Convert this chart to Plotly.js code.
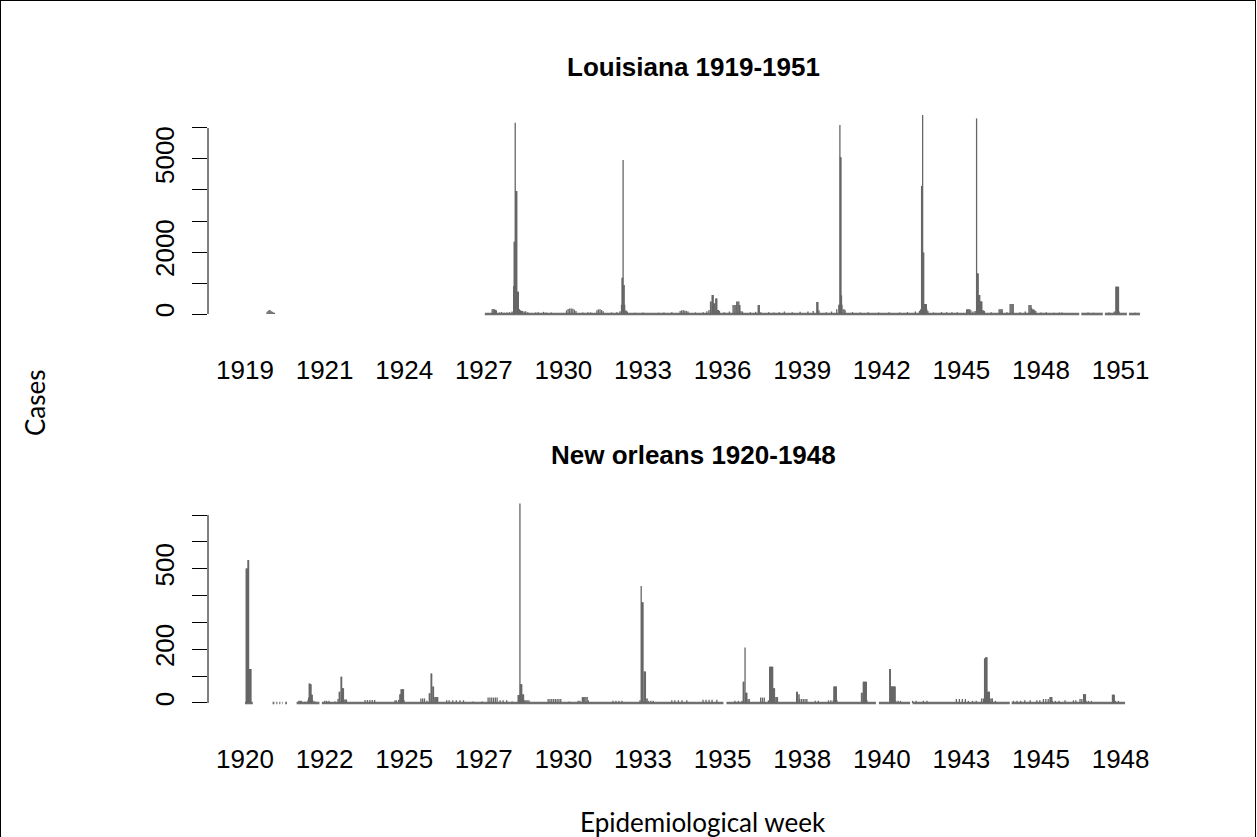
<!DOCTYPE html>
<html>
<head>
<meta charset="utf-8">
<script src="https://cdn.plot.ly/plotly-3.0.1.min.js"></script>
<style>
html,body{margin:0;padding:0;background:#fff;}
#wrap{position:relative;width:1257px;height:837px;overflow:hidden;}
#chart{width:1257px;height:837px;}
#frame{position:absolute;left:0;top:0;width:1256px;height:840px;box-sizing:border-box;border:1px solid #000;pointer-events:none;}
</style>
</head>
<body>
<div id="wrap"><div id="chart"></div><div id="frame"></div></div>
<script>
// ---------------- DATA ----------------
// Louisiana: weekly cases, week index counted from the first week of 1919
const laTitle = 'Louisiana 1919-1951';
const laTickLabels = ['1919','1921','1924','1927','1930','1933','1936','1939','1942','1945','1948','1951'];
const laTickStep = 152;            // weeks between year labels
const laRecordStart = [458, 1597, 1642, 1688];
const laRecordEnd   = [1593, 1638, 1684, 1709];
const laWeeks = [42,44,46,48,50,52,54,56,
 472,474,476,478,480,486,490,495,500,505,510,
 513,514,515,516,517,518,519,520,521,522,523,524,526,528,530,533,536,540,
 555,560,570,575,585,
 614,617,620,623,626,629,632,645,655,660,
 672,675,678,681,684,700,710,716,
 719,720,721,722,723,724,725,726,728,730,
 745,760,790,800,815,
 831,834,837,840,843,846,860,875,882,886,
 889,890,892,893,894,895,896,897,899,900,901,902,904,906,915,925,
 932,934,936,938,939,941,943,944,945,947,950,
 965,975,980,981,982,985,
 1000,1010,1020,1030,1045,1060,1075,1085,
 1092,1093,1094,1096,1110,1120,1130,
 1134,1135,1136,1137,1138,1139,1140,1142,1144,1146,
 1160,1175,1190,1210,1230,1250,1265,1280,1288,1290,
 1292,1293,1294,1295,1296,1297,1298,1299,1300,1301,1302,1304,
 1315,1330,1340,1350,1360,
 1378,1380,1382,1384,1386,1390,1394,1396,
 1397,1398,1399,1400,1401,1402,1403,1404,1405,1406,1407,1408,1410,1412,
 1425,1440,1442,1444,1446,1455,1461,1463,1465,1467,
 1480,1490,1497,1499,1501,1502,1504,1506,1508,1510,
 1520,1530,1545,1555,1560,1610,1620,1650,1660,
 1663,1664,1665,1666,1667,1668,1669,1700];
const laCases = [60,100,130,120,90,70,50,40,
 150,160,150,140,120,50,60,40,50,60,80,
 900,2330,2330,6170,3970,3970,3970,720,720,720,160,150,120,100,100,80,90,60,
 50,60,70,50,50,
 120,160,180,180,170,140,100,50,60,50,
 120,150,150,130,90,50,60,90,
 300,1170,1170,4970,935,935,300,110,110,80,
 40,50,40,50,60,
 100,120,120,110,100,80,50,60,90,130,
 400,400,610,610,610,340,340,340,500,500,500,130,130,100,60,80,
 290,290,290,290,400,400,400,290,290,100,80,
 60,70,290,290,290,60,
 60,50,60,80,60,70,80,100,
 390,390,390,120,60,80,150,
 300,300,6100,5060,5060,600,300,150,150,120,
 60,50,60,50,60,50,60,80,100,150,
 4130,4130,6420,1980,1980,320,320,320,320,320,150,100,
 50,60,60,60,60,
 150,150,150,150,120,80,100,100,
 6310,1310,1310,1310,610,610,610,400,400,400,400,120,120,100,
 60,150,150,150,150,60,320,320,320,320,
 60,80,290,290,290,200,150,150,120,100,
 50,60,40,50,50,50,40,50,80,
 880,880,880,880,880,880,80,40];
const laYTicks  = [0,1000,2000,3000,4000,5000,6000];
const laYLabels = ['0','','2000','','','5000',''];

// New Orleans: weekly cases, week index counted from spring 1920
const noTitle = 'New orleans 1920-1948';
const noTickLabels = ['1920','1922','1925','1927','1930','1933','1935','1938','1940','1943','1945','1948'];
const noTickStep = 132.6;          // weeks between year labels
const noRecordStart = [0, 46, 52, 57, 62, 67, 86, 128, 802, 1056, 1112, 1277];
const noRecordEnd   = [13, 49, 54, 59, 63, 70, 124, 797, 1051, 1108, 1274, 1466];
const noWeeks = [2,3,4,5,6,7,8,9,10,
 90,92,94,100,105,106,107,108,109,110,111,112,113,116,
 133,136,140,150,155,157,158,160,161,162,163,164,165,167,169,
 200,204,208,212,216,
 250,252,256,258,259,260,261,262,263,264,265,
 293,296,299,303,307,308,310,311,313,314,315,317,319,321,
 336,340,346,352,358,364,380,395,
 405,408,411,414,417,420,425,430,436,
 445,455,456,457,458,459,460,461,462,463,464,466,468,470,473,
 505,508,511,514,517,520,523,526,
 540,555,558,562,564,566,568,570,572,
 613,618,623,628,
 658,660,661,662,663,665,666,667,668,670,672,676,680,
 711,716,722,728,736,763,768,773,778,786,
 816,822,828,830,831,833,834,835,836,838,840,
 859,862,865,
 872,874,875,876,877,878,879,880,881,882,883,885,887,
 919,920,921,923,924,927,930,933,936,950,955,
 972,976,980,981,982,983,984,985,986,
 1027,1028,1030,1031,1032,1033,1034,1035,1036,
 1074,1075,1076,1077,1078,1079,1080,1081,1082,1083,1084,1088,1092,
 1112,1118,1130,1136,1185,1190,1195,1200,1205,1212,1218,
 1227,1230,1232,1233,1234,1235,1236,1237,1238,1239,1240,1241,1243,1245,1250,
 1280,1286,1292,1299,1308,1319,1324,
 1330,1334,1338,1341,1342,1343,1344,1345,1350,1356,
 1366,1380,1384,1391,1394,1397,1398,1399,1400,1401,1405,1410,
 1445,1446,1447,1448,1450,1455];
const noCases = [501,501,501,532,532,127,127,127,127,
 8,8,8,5,10,20,73,73,70,70,31,31,10,6,
 8,8,8,6,15,42,42,98,98,55,55,55,13,13,13,
 11,11,11,11,11,
 10,10,12,33,33,51,51,51,51,51,10,
 17,17,17,8,36,36,110,110,61,61,22,22,22,22,
 10,10,10,10,10,10,6,6,
 20,20,20,20,20,20,10,10,10,
 6,30,30,30,743,70,70,70,32,32,32,10,10,10,10,
 15,15,15,15,15,15,15,15,
 6,8,8,22,22,22,22,22,10,
 8,8,8,8,
 10,436,375,375,375,117,117,117,17,17,8,8,8,
 10,10,10,10,10,12,12,12,12,12,
 8,8,8,79,79,207,38,38,38,15,15,
 20,20,20,
 10,135,135,135,135,135,135,55,55,55,22,22,22,
 42,42,33,33,15,15,15,15,15,8,8,
 10,10,10,61,61,61,61,61,10,
 38,38,79,79,79,79,79,79,10,
 127,127,61,61,61,61,61,61,61,61,8,8,8,
 8,8,8,8,15,15,15,15,8,8,8,
 17,17,166,166,170,170,170,42,42,42,42,17,17,17,8,
 8,8,8,10,10,10,10,
 15,15,15,22,22,22,22,8,8,8,
 10,10,10,15,15,33,33,33,33,8,8,8,
 31,31,31,31,8,8];
const noYTicks  = [0,100,200,300,400,500,600,700];
const noYLabels = ['0','','200','','','500','',''];

const yLabel = 'Cases';
const xLabel = 'Epidemiological week';

// ---------------- BUILD ----------------
const barColor = '#666666';
function spikeTrace(weeks, vals, xa, ya) {
  const x = [], y = [];
  for (let i = 0; i < weeks.length; i++) { x.push(weeks[i], weeks[i], null); y.push(0, vals[i], null); }
  return {type:'scatter', mode:'lines', x, y, xaxis:xa, yaxis:ya,
          line:{color:barColor, width:1.3}, hoverinfo:'skip', showlegend:false};
}
function baseTrace(starts, ends, xa, ya) {
  const x = [], y = [];
  for (let i = 0; i < starts.length; i++) { x.push(starts[i], ends[i], null); y.push(0, 0, null); }
  return {type:'scatter', mode:'lines', x, y, xaxis:xa, yaxis:ya,
          line:{color:'#707070', width:2.6}, hoverinfo:'skip', showlegend:false};
}
const data = [
  baseTrace(laRecordStart, laRecordEnd, 'x', 'y'),
  spikeTrace(laWeeks, laCases, 'x', 'y'),
  baseTrace(noRecordStart, noRecordEnd, 'x2', 'y2'),
  spikeTrace(noWeeks, noCases, 'x2', 'y2')
];

const tickFont = {family:'Liberation Sans, Arial, sans-serif', size:26, color:'#000'};
function xAxis(labels, step, range, anchor) {
  return {domain:[0,1], range, anchor, tickvals: labels.map((_, k) => k * step), ticktext: labels,
          ticks:'', showline:false, showgrid:false, zeroline:false, tickfont:tickFont,
          ticklabelstandoff: 30, fixedrange:true};
}
function yAxis(vals, labels, range, domain, anchor) {
  return {domain, range, anchor, tickvals: vals, ticktext: labels, ticks:'outside', ticklen:15,
          tickwidth:1, tickcolor:'#000', tickangle:-90, showline:false, showgrid:false, zeroline:false,
          tickfont:tickFont, ticklabelstandoff: 8, fixedrange:true};
}

const layout = {
  width:1257, height:837,
  margin:{l:208, r:50, t:0, b:0},
  paper_bgcolor:'#fff', plot_bgcolor:'#fff',
  showlegend:false, hovermode:false,
  xaxis:  xAxis(laTickLabels, laTickStep, [-70.65, 1837], 'y'),
  yaxis:  yAxis(laYTicks, laYLabels, [-258, 6677], [0.61529, 0.87216], 'x'),
  xaxis2: xAxis(noTickLabels, noTickStep, [-61.6, 1602.5], 'y2'),
  yaxis2: yAxis(noYTicks, noYLabels, [-29.8, 774.5], [0.15054, 0.40860], 'x2'),
  shapes: [
    {type:'line', xref:'paper', yref:'y',  x0:0, x1:0, y0:laYTicks[0], y1:laYTicks[laYTicks.length-1], line:{color:'#000', width:1}},
    {type:'line', xref:'paper', yref:'y2', x0:0, x1:0, y0:noYTicks[0], y1:noYTicks[noYTicks.length-1], line:{color:'#000', width:1}}
  ],
  annotations: [
    {text:'<b>'+laTitle+'</b>', xref:'paper', yref:'paper', x:0.4855, y:1-67/837, xanchor:'center', yanchor:'middle', showarrow:false,
     font:{family:'Liberation Sans, Arial, sans-serif', size:26, color:'#000'}},
    {text:'<b>'+noTitle+'</b>', xref:'paper', yref:'paper', x:0.4855, y:1-455/837, xanchor:'center', yanchor:'middle', showarrow:false,
     font:{family:'Liberation Sans, Arial, sans-serif', size:26, color:'#000'}},
    {text:yLabel, xref:'paper', yref:'paper', x:(35-208)/999, y:1-403/837, xanchor:'center', yanchor:'middle', textangle:-90, showarrow:false,
     font:{family:'Lato, sans-serif', size:26, color:'#000'}},
    {text:xLabel, xref:'paper', yref:'paper', x:(703-208)/999, y:1-822/837, xanchor:'center', yanchor:'middle', showarrow:false,
     font:{family:'Lato, sans-serif', size:26, color:'#000'}}
  ]
};
Plotly.newPlot('chart', data, layout, {staticPlot:true, displayModeBar:false});
</script>
</body>
</html>
